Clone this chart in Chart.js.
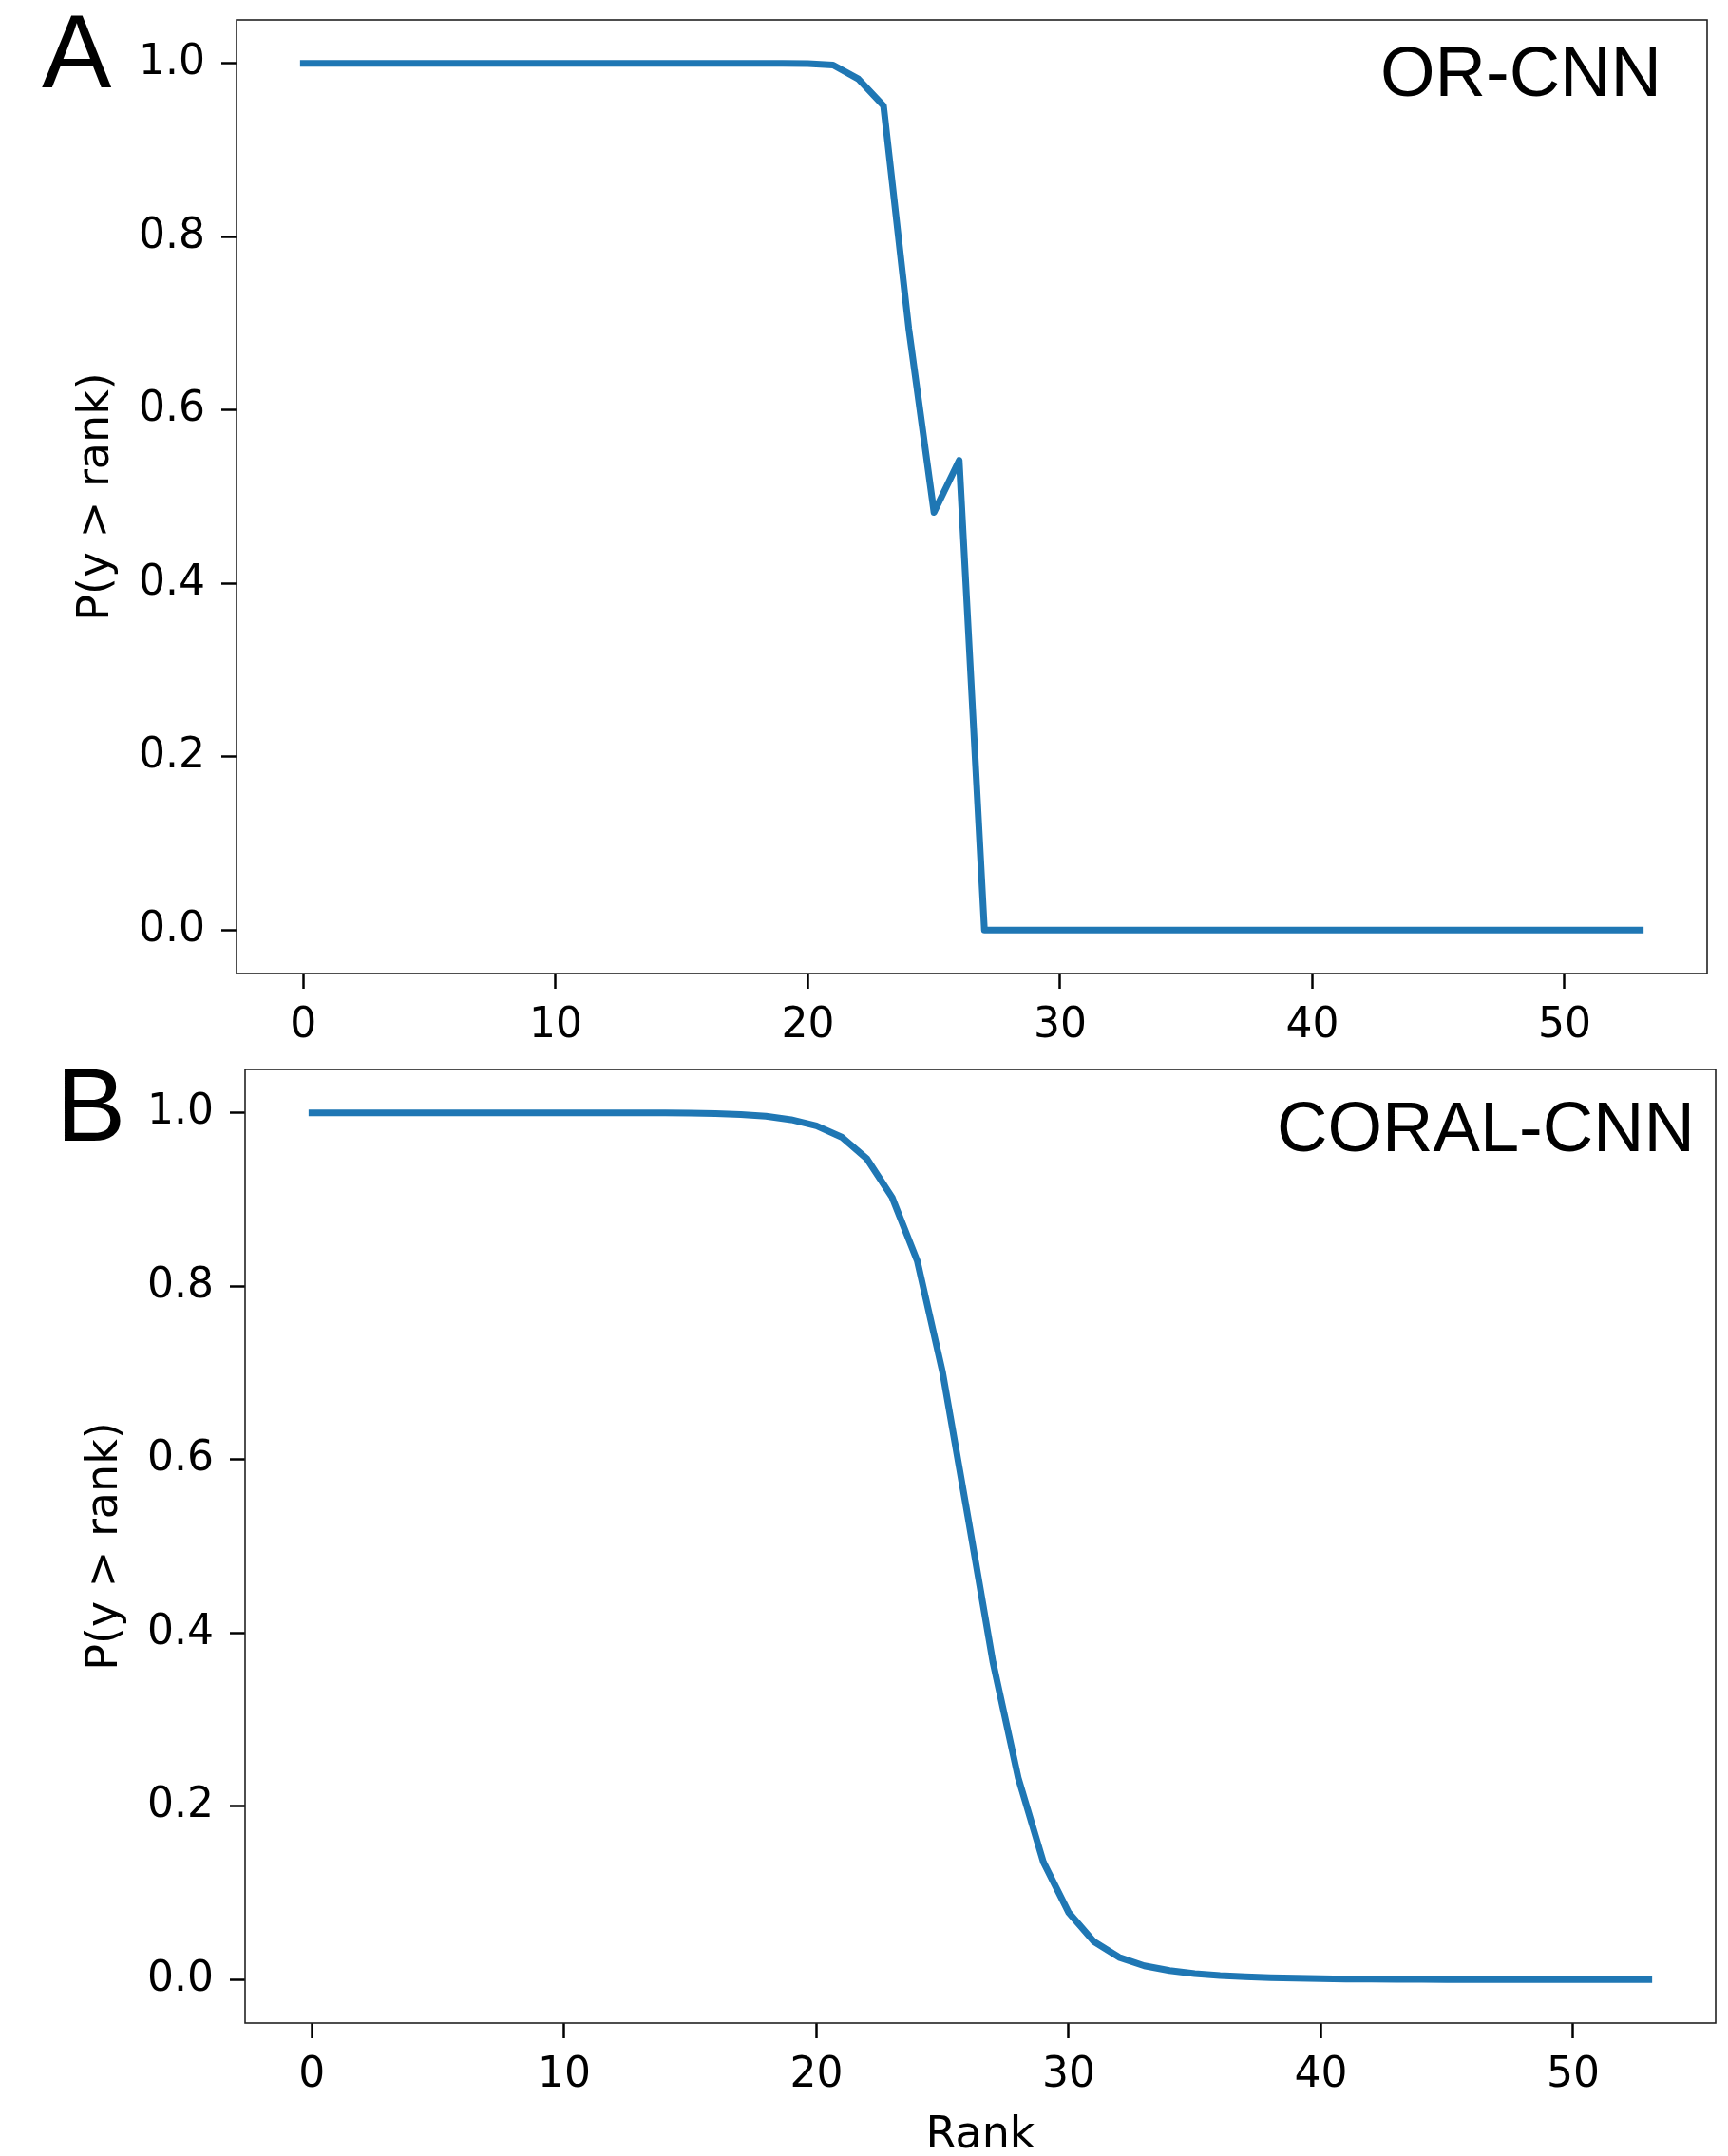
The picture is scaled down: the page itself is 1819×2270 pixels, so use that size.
<!DOCTYPE html>
<html>
<head>
<meta charset="utf-8">
<script src="https://cdn.jsdelivr.net/npm/chart.js@4/dist/chart.umd.min.js"></script>
<style>
  body { margin: 0; background: #fff; }
  canvas { position: absolute; left: 0; }
  #panelA { top: 0; }
  #panelB { top: 1100px; }
</style>
</head>
<body>
<canvas id="panelA" width="1819" height="1100"></canvas>
<canvas id="panelB" width="1819" height="1170"></canvas>
<script>
// data
const ranks = [0, 1, 2, 3, 4, 5, 6, 7, 8, 9, 10, 11, 12, 13, 14, 15, 16, 17, 18, 19,
  20, 21, 22, 23, 24, 25, 26, 27, 28, 29, 30, 31, 32, 33, 34, 35, 36, 37, 38, 39,
  40, 41, 42, 43, 44, 45, 46, 47, 48, 49, 50, 51, 52, 53]

// OR-CNN probabilities, one per rank
const orCnnProbs = [1, 1, 1, 1, 1, 1, 1, 1, 1, 1, 1, 1, 1, 1, 1, 1, 1, 1, 1, 1,
  0.9995, 0.998, 0.982, 0.951, 0.694, 0.482, 0.542, 0, 0, 0, 0, 0, 0, 0, 0, 0, 0, 0, 0, 0,
  0, 0, 0, 0, 0, 0, 0, 0, 0, 0, 0, 0, 0, 0]

// CORAL-CNN probabilities, one per rank
const coralCnnProbs = [1, 1, 1, 1, 1, 1, 1, 1, 1, 1, 1, 1, 1, 1, 1, 0.9995, 0.999, 0.998, 0.996, 0.992,
  0.985, 0.972, 0.947, 0.9025, 0.829, 0.701, 0.535, 0.366, 0.233, 0.1355, 0.0775, 0.044, 0.0258, 0.016, 0.0105, 0.007, 0.0047, 0.0033, 0.0024, 0.0017,
  0.0012, 0.0008, 0.0006, 0.0004, 0.0003, 0.0002, 0.0001, 0.0001, 0.0001, 0.0001, 0.0001, 0.0001, 0.0001, 0.0001]

const xTickValues = [0, 10, 20, 30, 40, 50]
const yTickValues = [0, 0.2, 0.4, 0.6, 0.8, 1.0]

const panelLetters = ['A', 'B']
const modelNames = ['OR-CNN', 'CORAL-CNN']
const yTitle = 'P(y > rank)'
const xTitle = 'Rank'

// matplotlib style 5% margins around the data
const xMin = -2.65
const xMax = 55.65
const yMin = -0.05
const yMax = 1.05

const tickFont = { family: 'DejaVu Sans', size: 44 }
const titleFont = { family: 'DejaVu Sans', size: 46 }
const labelFont = 'Liberation Sans'

// frame round the plot area, drawn over the line like matplotlib spines
const framePlugin = {
  id: 'frame',
  afterDatasetsDraw(chart) {
    const { ctx, chartArea } = chart
    ctx.save()
    ctx.strokeStyle = '#222'
    ctx.lineWidth = 1.6
    ctx.strokeRect(chartArea.left, chartArea.top,
        chartArea.right - chartArea.left, chartArea.bottom - chartArea.top)
    ctx.restore()
  }
}

// panel letter and model name
const captionPlugin = {
  id: 'caption',
  afterDraw(chart, args, opts) {
    const { ctx, chartArea } = chart
    ctx.save()
    ctx.fillStyle = '#000'
    ctx.textBaseline = 'alphabetic'
    ctx.font = `110px "${labelFont}"`
    ctx.textAlign = 'left'
    ctx.fillText(opts.letter, opts.letterX, opts.letterY)
    ctx.font = `74px "${labelFont}"`
    ctx.textAlign = 'right'
    ctx.fillText(opts.name, chartArea.right - opts.nameRight, chartArea.top + opts.nameDown)
    ctx.restore()
  }
}

// fixed ticks and exact limits, no extra room for labels
function fixTicks(values, min, max) {
  return scale => {
    scale.ticks = values.map(v => ({ value: v }))
    scale.min = min
    scale.max = max
  }
}

function fixSize(prop, size) {
  return scale => {
    scale[prop] = size
    scale.paddingTop = 0
    scale.paddingBottom = 0
    scale.paddingLeft = 0
    scale.paddingRight = 0
  }
}

// build one panel
function makePanel(canvasId, values, layout) {
  const ctx = document.getElementById(canvasId)
  const points = ranks.map((r, i) => ({ x: r, y: values[i] }))

  return new Chart(ctx, {
    type: 'line',
    data: {
      datasets: [{
        data: points,
        borderColor: '#1f77b4',
        borderWidth: 7,
        borderCapStyle: 'square',
        borderJoinStyle: 'round',
        pointRadius: 0,
        tension: 0,
        fill: false
      }]
    },
    plugins: [framePlugin, captionPlugin],
    options: {
      responsive: false,
      animation: false,
      events: [],
      layout: {
        padding: { top: layout.top, right: layout.right, left: 0, bottom: 0 }
      },
      plugins: {
        legend: { display: false },
        tooltip: { enabled: false },
        caption: layout.caption
      },
      scales: {
        x: {
          type: 'linear',
          min: xMin,
          max: xMax,
          afterBuildTicks: fixTicks(xTickValues, xMin, xMax),
          afterFit: fixSize('height', layout.xHeight),
          ticks: {
            font: tickFont,
            color: '#000',
            padding: 13,
            autoSkip: false,
            maxRotation: 0,
            callback: v => String(v)
          },
          grid: {
            drawOnChartArea: false,
            tickLength: 16,
            tickWidth: 2.5,
            tickColor: '#000'
          },
          border: { display: false },
          title: {
            display: layout.showXTitle,
            text: xTitle,
            color: '#000',
            font: titleFont,
            padding: { top: 0, bottom: -7 }
          }
        },
        y: {
          type: 'linear',
          min: yMin,
          max: yMax,
          afterBuildTicks: fixTicks(yTickValues, yMin, yMax),
          afterFit: fixSize('width', layout.yWidth),
          ticks: {
            font: tickFont,
            color: '#000',
            padding: 17,
            autoSkip: false,
            callback: v => v.toFixed(1)
          },
          grid: {
            drawOnChartArea: false,
            tickLength: 16,
            tickWidth: 2.5,
            tickColor: '#000'
          },
          border: { display: false },
          title: {
            display: true,
            text: yTitle,
            color: '#000',
            font: titleFont,
            padding: { top: layout.yTitlePad, bottom: 0 }
          }
        }
      }
    }
  })
}

// panel A
makePanel('panelA', orCnnProbs, {
  top: 21,
  right: 22,
  yWidth: 249,
  xHeight: 75,
  yTitlePad: 74,
  showXTitle: false,
  caption: { letter: panelLetters[0], letterX: 44, letterY: 92, name: modelNames[0], nameRight: 48, nameDown: 80 }
})

// panel B
makePanel('panelB', coralCnnProbs, {
  top: 26,
  right: 13,
  yWidth: 258,
  xHeight: 140,
  yTitlePad: 83,
  showXTitle: true,
  caption: { letter: panelLetters[1], letterX: 59, letterY: 101, name: modelNames[1], nameRight: 22, nameDown: 86 }
})
</script>
</body>
</html>
